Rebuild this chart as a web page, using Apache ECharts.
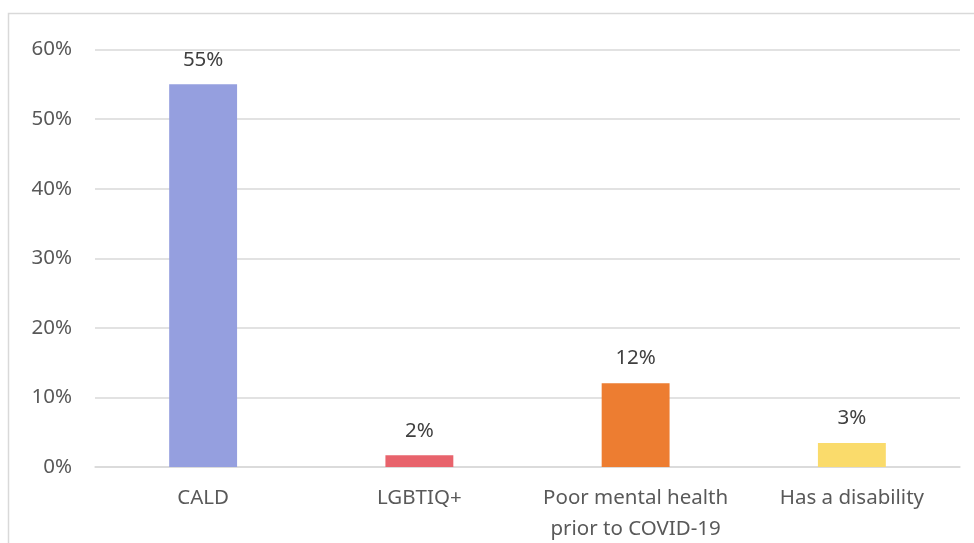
<!DOCTYPE html>
<html><head><meta charset="utf-8">
<script src="https://cdn.jsdelivr.net/npm/echarts@6/dist/echarts.min.js"></script>
<style>html,body{margin:0;padding:0;background:#fff}#c{width:974px;height:543px}</style>
</head><body><div id="c"></div>
<script>
const categories = ['CALD', 'LGBTIQ+', 'Poor mental health\nprior to COVID-19', 'Has a disability'];
const values = [55, 1.7, 12.05, 3.45];
const colors = ['#959FDF', '#E8636C', '#ED7D31', '#FADB6B'];
const yTicks = { min: 0, max: 60, interval: 10 };

const FONT = '"Noto Sans", "Open Sans", sans-serif';
const chart = echarts.init(document.getElementById('c'), null, { renderer: 'canvas' });
chart.setOption({
  animation: false,
  backgroundColor: '#fff',
  graphic: [{
    type: 'rect', shape: { x: 8.5, y: 13.5, width: 1000, height: 600 },
    style: { fill: 'none', stroke: '#D9D9D9', lineWidth: 1.5 }, silent: true, z: -1
  }],
  grid: { left: 95, right: 14, top: 49.5, bottom: 76, containLabel: false, outerBoundsMode: 'none' },
  xAxis: {
    type: 'category', data: categories,
    axisLine: { show: true, lineStyle: { color: '#D9D9D9', width: 1.5 } },
    axisTick: { show: false },
    axisLabel: { color: '#595959', fontFamily: FONT, fontSize: 20.5, margin: 16, lineHeight: 31, interval: 0 }
  },
  yAxis: {
    type: 'value', min: yTicks.min, max: yTicks.max, interval: yTicks.interval,
    axisLine: { show: false }, axisTick: { show: false },
    splitLine: { lineStyle: { color: '#D9D9D9', width: 1.5 } },
    axisLabel: { color: '#595959', fontFamily: FONT, fontSize: 20.5, margin: 23, formatter: v => v + '%' }
  },
  series: [{
    type: 'bar', barWidth: '31.4%',
    data: values.map((v, i) => ({ value: v, itemStyle: { color: colors[i] } })),
    label: {
      show: true, position: 'top', distance: 14, color: '#404040', fontFamily: FONT, fontSize: 20.5,
      formatter: p => Math.round(p.value) + '%'
    }
  }]
});
</script></body></html>
